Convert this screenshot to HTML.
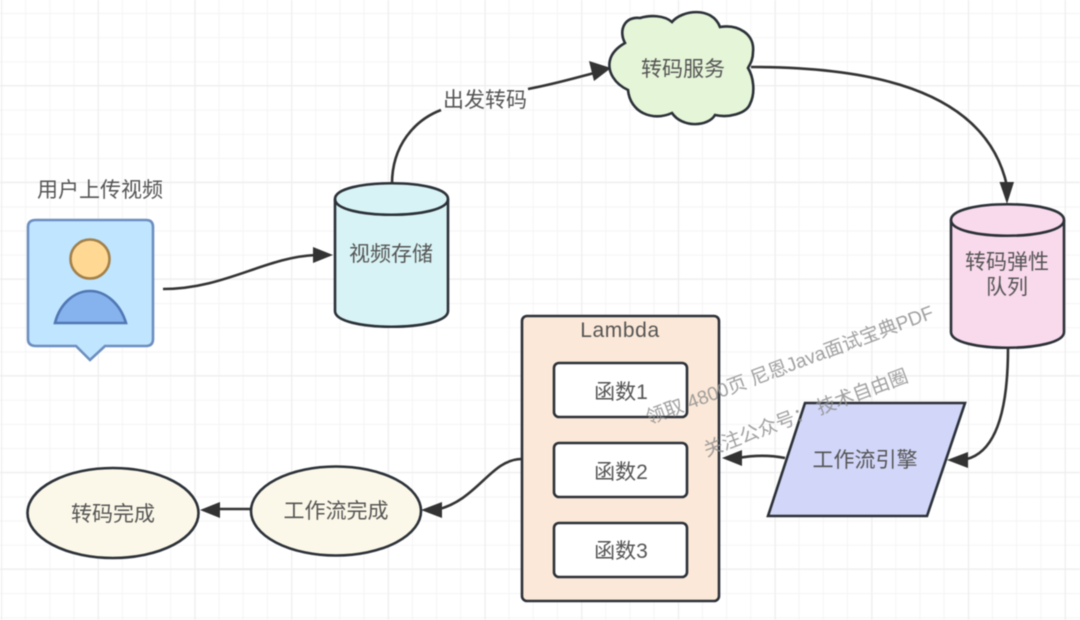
<!DOCTYPE html>
<html><head><meta charset="utf-8"><style>
html,body{margin:0;padding:0;background:#fff}
svg{display:block;filter:blur(.4px)}
text{font-family:"Liberation Sans","Noto Sans CJK SC",sans-serif;font-size:21px;fill:#555;text-anchor:middle}
.n{stroke:#2b3138;stroke-width:2.6}
.e{fill:none;stroke:#333;stroke-width:2.6}
.a{fill:#333}
</style></head><body>
<svg width="1080" height="620" viewBox="0 0 1080 620" xmlns="http://www.w3.org/2000/svg">
<defs>
<pattern id="g" width="24.17" height="24.17" patternUnits="userSpaceOnUse" patternTransform="translate(1 13)">
<path d="M.5 0V24.17M0 .5H24.17" stroke="#f4f4f4" stroke-width="1" fill="none"/></pattern>
<pattern id="G" width="96.7" height="96.7" patternUnits="userSpaceOnUse" patternTransform="translate(1 85)">
<path d="M.5 0V96.7M0 .5H96.7" stroke="#eeeeee" stroke-width="1.4" fill="none"/></pattern>
</defs>
<rect width="1080" height="620" fill="#fff"/>
<rect width="1080" height="620" fill="url(#g)"/>
<rect width="1080" height="620" fill="url(#G)"/>

<!-- connectors -->
<path class="e" d="M163 289C225 289 265 257 316 255"/><path class="a" d="M333 255L313 247V263Z"/>
<path class="e" d="M392 184C392 145 415 120 441 110"/>
<path class="e" d="M528 89C555 84 575 78 598 72"/><path class="a" d="M611 68L589 61L594 81Z"/>
<path class="e" d="M751 67C860 67 985 85 1007 186"/><path class="a" d="M1007 204L999.500 182H1014Z"/>
<path class="e" d="M1008 348C1008 400 1000 455 962 460"/><path class="a" d="M947 460L968 452V468Z"/>
<path class="e" d="M785 458C770 455 755 455 738 458"/><path class="a" d="M722 458L742 450V466Z"/>
<path class="e" d="M521 459C490 460 478 500 436 510"/><path class="a" d="M421 510L442 502V518Z"/>
<path class="e" d="M250 509H215"/><path class="a" d="M200 510L220 502V518Z"/>

<!-- user -->
<text x="100" y="197">用户上传视频</text>
<path d="M36 220H146Q153 220 153 227V339Q153 346 146 346H105L90 360L76 346H36Q28 346 28 339V227Q28 220 36 220Z" fill="#bfe5ff" stroke="#6c8ebf" stroke-width="2.6"/>
<circle cx="90" cy="259" r="19.5" fill="#ffd893" stroke="#a2804a" stroke-width="2.6"/>
<path d="M55 323C60 303 75 291 90 291C105 291 120 303 126 323Z" fill="#86b3ee" stroke="#5078b4" stroke-width="2.6"/>

<!-- video storage -->
<path class="n" d="M335 199C335 178 448 178 448 199V311C448 332 335 332 335 311Z" fill="#d8f3f5"/>
<path class="n" d="M335 199C335 220 448 220 448 199" fill="none"/>
<text x="391" y="261">视频存储</text>

<!-- trigger label -->
<text x="485" y="107">出发转码</text>

<!-- cloud -->
<path class="n" d="M672 22C682 10 712 6 720 27C738 24 755 34 753 52C753 60 750 64 748 68C753 76 756 92 750 104C746 114 728 118 715 115C708 127 682 128 672 113C652 122 630 112 628 90C615 84 607 72 610 60C612 52 618 47 625 43C618 30 625 16 640 18C650 15 664 15 672 22Z" fill="#e5f5d8"/>
<text x="683" y="76">转码服务</text>

<!-- transcode queue -->
<path class="n" d="M951 220C951 199 1064 199 1064 220V332C1064 353 951 353 951 332Z" fill="#f9d9ec"/>
<path class="n" d="M951 220C951 241 1064 241 1064 220" fill="none"/>
<text x="1007" y="269">转码弹性</text>
<text x="1007" y="294">队列</text>

<!-- lambda -->
<rect class="n" x="522" y="316" width="197" height="285" rx="5" fill="#fbe8d8"/>
<text x="620" y="337" style="letter-spacing:.6px">Lambda</text>
<rect class="n" x="554" y="363" width="133" height="54" rx="5" fill="#fff"/>
<text x="621" y="399">函数1</text>
<rect class="n" x="554" y="443" width="133" height="54" rx="5" fill="#fff"/>
<text x="621" y="479">函数2</text>
<rect class="n" x="554" y="523" width="133" height="54" rx="5" fill="#fff"/>
<text x="621" y="558">函数3</text>

<!-- workflow engine -->
<path class="n" d="M805 403H965L927 516H768Z" fill="#d2d6f8"/>
<text x="865" y="467">工作流引擎</text>

<!-- ellipses -->
<ellipse class="n" cx="113" cy="513" rx="85.500" ry="45" fill="#fcf8e9"/>
<text x="113" y="521">转码完成</text>
<ellipse class="n" cx="336" cy="511" rx="85" ry="44.500" fill="#fcf8e9"/>
<text x="336" y="518">工作流完成</text>

<!-- watermark -->
<text transform="translate(792 371) rotate(-20.500)" style="font-size:19.200px;fill:#8f8f8f;fill-opacity:.85">领取 4800页 尼恩Java面试宝典PDF</text>
<text transform="translate(808 419) rotate(-20.500)" style="font-size:19.200px;fill:#8f8f8f;fill-opacity:.85">关注公众号： 技术自由圈</text>
</svg>
</body></html>
